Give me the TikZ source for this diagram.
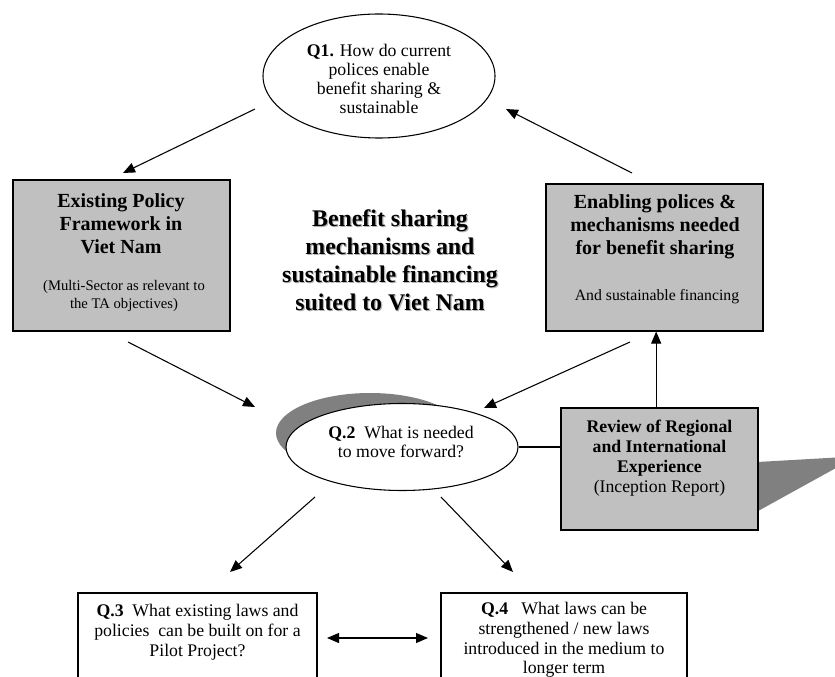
\documentclass[tikz,border=0pt]{standalone}
\usepackage{fontspec}
\setmainfont{Liberation Serif}
\usetikzlibrary{arrows.meta,shapes.geometric}
\definecolor{boxgray}{HTML}{C0C0C0}
\definecolor{shadowgray}{HTML}{808080}
\definecolor{textshadow}{HTML}{B4B4B4}
\begin{document}
\begin{tikzpicture}[x=0.75pt,y=-0.75pt,
  arr/.style={line width=0.8pt,-{Triangle[length=9pt,width=7.5pt]}},
  twoway/.style={line width=0.8pt,{Triangle[length=9pt,width=7.5pt]}-{Triangle[length=9pt,width=7.5pt]}},
  joinline/.style={line width=0.8pt},
  graybox/.style={draw, line width=0.8pt, fill=boxgray, inner sep=0pt},
  whitebox/.style={draw, line width=0.8pt, fill=white, inner sep=0pt},
  oval/.style={ellipse, draw, line width=0.8pt, fill=white, inner sep=0pt},
  body/.style={inner sep=0pt, align=center, font=\fontsize{13.3}{14.8}\selectfont},
  title/.style={inner sep=0pt, align=center, font=\fontsize{15}{17.3}\selectfont\bfseries},
  note/.style={inner sep=0pt, align=center, font=\fontsize{11}{13.5}\selectfont},
  headline/.style={inner sep=0pt, align=center, font=\fontsize{17.9}{21}\selectfont\bfseries}
]
\useasboundingbox (0,0) rectangle (835,677);
\clip (0,0) rectangle (835,677);

% question 1
\node[oval, minimum width=174pt, minimum height=93pt] (q1) at (379,76) {};
\node[body, font=\fontsize{13.3}{14.4}\selectfont] (q1text) at (379,79)
  {\textbf{Q1.} How do current\\polices enable\\benefit sharing \&\\sustainable};

% existing policy framework
\node[graybox, minimum width=162.75pt, minimum height=113.25pt] (exist) at (121.5,255.5) {};
\node[title] (existtitle) at (121,224) {Existing Policy\\Framework in\\Viet Nam};
\node[note] (existnote) at (124,296) {(Multi-Sector as relevant to\\the TA objectives)};

% enabling policies
\node[graybox, minimum width=162.75pt, minimum height=110.25pt] (enab) at (654.5,257.5) {};
\node[title] (enabtitle) at (655,226.5) {Enabling polices \&\\mechanisms needed\\for benefit sharing};
\node[note, font=\fontsize{11.8}{14}\selectfont] (enabnote) at (657,297) {And sustainable financing};

% central theme, with its soft text shadow
\node[headline, text=textshadow] (themeshadow) at (391.2,261.2)
  {Benefit sharing\\mechanisms and\\sustainable financing\\suited to Viet Nam};
\node[headline] (theme) at (390,260)
  {Benefit sharing\\mechanisms and\\sustainable financing\\suited to Viet Nam};

% regional review with its cast shadow
\fill[shadowgray] (740,463) -- (845,457) -- (845,463) -- (740,521) -- cycle;
\node[graybox, minimum width=147.75pt, minimum height=91.5pt] (review) at (659.5,469) {};
\node[body, font=\fontsize{13.3}{15}\selectfont] (reviewtext) at (659.5,458)
  {\textbf{Review of Regional}\\\textbf{and International}\\\textbf{Experience}\\(Inception Report)};

% question 2 with its shadow
\fill[shadowgray] (370,433) ellipse [x radius=94, y radius=40];
\node[oval, minimum width=174pt, minimum height=65.25pt] (q2) at (402,447) {};
\node[body] (q2text) at (401,442) {\textbf{Q.2}~ What is needed\\to move forward?};

% questions 3 and 4
\node[whitebox, minimum width=179.25pt, minimum height=80.25pt] (q3) at (197.5,646.5) {};
\node[body] (q3text) at (197.5,632)
  {\textbf{Q.3}~ What existing laws and\\policies~ can be built on for a\\Pilot Project?};
\node[whitebox, minimum width=184.5pt, minimum height=80.25pt] (q4) at (564,646.5) {};
\node[body] (q4text) at (564,640)
  {\textbf{Q.4}~~ What laws can be\\strengthened / new laws\\introduced in the medium to\\longer term};

% connector end points
\coordinate (a1s) at (255,109);  \coordinate (a1e) at (123,173);
\coordinate (a2s) at (632,173);  \coordinate (a2e) at (506,109);
\coordinate (a3s) at (128,342);  \coordinate (a3e) at (255,407);
\coordinate (a4s) at (630,342);  \coordinate (a4e) at (484,408);
\coordinate (a6s) at (315,497);  \coordinate (a6e) at (230,572);
\coordinate (a7s) at (441,497);  \coordinate (a7e) at (513,572);
\coordinate (a8s) at (327,638);  \coordinate (a8e) at (428,638);
\coordinate (a5s) at ([xshift=-2.5pt]review.north);

% connectors
\draw[arr] (a1s) -- (a1e);
\draw[arr] (a2s) -- (a2e);
\draw[arr] (a3s) -- (a3e);
\draw[arr] (a4s) -- (a4e);
\draw[arr] (a5s) -- (a5s |- enab.south);
\draw[joinline] (q2.east) -- (q2.east -| review.west);
\draw[arr] (a6s) -- (a6e);
\draw[arr] (a7s) -- (a7e);
\draw[twoway] (a8s) -- (a8e);
\end{tikzpicture}
\end{document}
